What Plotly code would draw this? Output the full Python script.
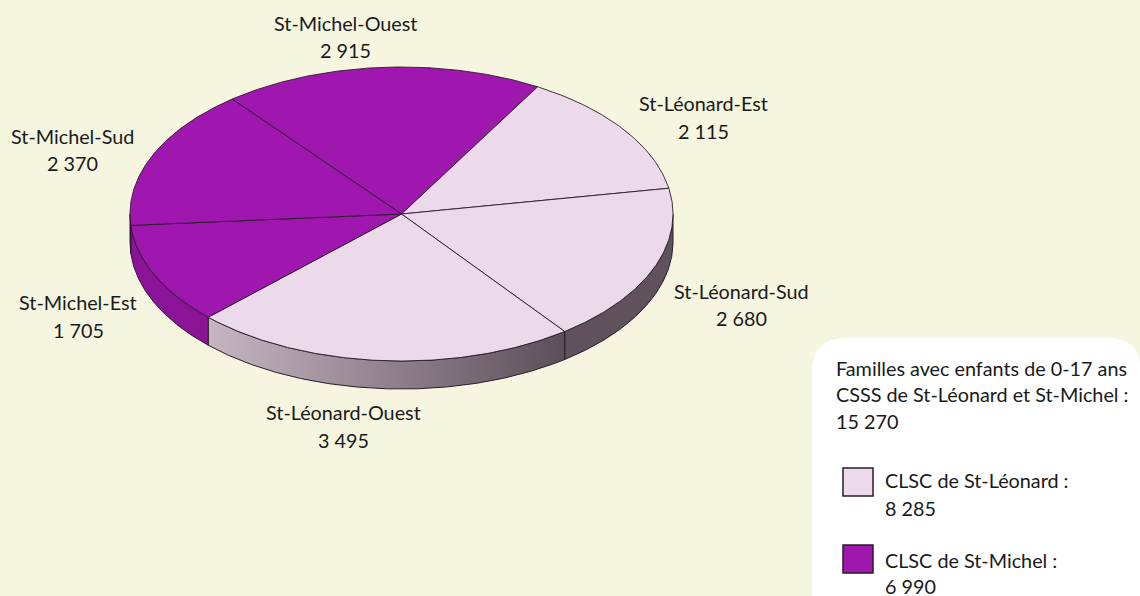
import math
import plotly.graph_objects as go

# Data
names = ["St-Michel-Ouest", "St-Léonard-Est", "St-Léonard-Sud", "St-Léonard-Ouest", "St-Michel-Est", "St-Michel-Sud"]
values = [2915, 2115, 2680, 3495, 1705, 2370]
groups = ["CLSC de St-Michel", "CLSC de St-Léonard", "CLSC de St-Léonard", "CLSC de St-Léonard", "CLSC de St-Michel", "CLSC de St-Michel"]
group_names = ["CLSC de St-Léonard", "CLSC de St-Michel"]
group_totals = [8285, 6990]
grand_total = 15270
info_title = ["Familles avec enfants de 0-17 ans", "CSSS de St-Léonard et St-Michel :"]

# Style and layout
W, H = 1140, 596
BG = "#F5F5E0"
LINE = "#2B1B2B"
FONT = "Lato"
FS = 19.8
TXT = "#1a1a1a"
CX, CY, RX, RY, DEPTH = 401.5, 214, 271.5, 147, 28
START = -38.6
top_col = {"CLSC de St-Léonard": "#ECD9E9", "CLSC de St-Michel": "#9F17AF"}
side_grad = {
    "St-Léonard-Sud": ("#5F525C", "#5F525C"),
    "St-Léonard-Ouest": ("#C6B6C2", "#5C4F59"),
    "St-Michel-Est": ("#8A1397", "#8A1397"),
    "St-Michel-Sud": ("#8A1397", "#8A1397"),
}
label_pos = {
    "St-Michel-Ouest": (345, 23, 50),
    "St-Léonard-Est": (703, 103, 131),
    "St-Léonard-Sud": (741, 291, 318),
    "St-Léonard-Ouest": (343, 412, 440),
    "St-Michel-Est": (78, 302, 330),
    "St-Michel-Sud": (72, 136, 163),
}


def fmt(v):
    return f"{v:,}".replace(",", " ")


def pt(deg, dy=0):
    a = math.radians(deg)
    return CX + RX * math.sin(a), CY - RY * math.cos(a) + dy


total = sum(values)
spans = []
acc = START
for v in values:
    sweep = v / total * 360
    spans.append((acc, acc + sweep))
    acc += sweep

fig = go.Figure()

# Side walls: the part of each slice's rim on the front half of the ellipse
for name, (a0, a1) in zip(names, spans):
    for shift in (0, 360):
        lo, hi = max(a0 + shift, 90), min(a1 + shift, 270)
        if lo >= hi:
            continue
        n = max(2, int(hi - lo) * 2)
        angs = [lo + (hi - lo) * i / n for i in range(n + 1)]
        upper = [pt(t) for t in angs]
        lower = [pt(t, DEPTH) for t in reversed(angs)]
        pts = upper + lower + upper[:1]
        c0, c1 = side_grad[name]
        fig.add_trace(go.Scatter(
            x=[p[0] for p in pts], y=[p[1] for p in pts],
            mode="lines", fill="toself",
            fillgradient=dict(type="horizontal", colorscale=[[0, c0], [1, c1]]),
            line=dict(color=LINE, width=1),
            hoverinfo="skip", showlegend=False,
        ))

# Top faces
for name, val, grp, (a0, a1) in zip(names, values, groups, spans):
    n = max(2, int(a1 - a0) * 2)
    rim = [pt(a0 + (a1 - a0) * i / n) for i in range(n + 1)]
    pts = [(CX, CY)] + rim + [(CX, CY)]
    fig.add_trace(go.Scatter(
        x=[p[0] for p in pts], y=[p[1] for p in pts],
        mode="lines", fill="toself", fillcolor=top_col[grp],
        line=dict(color=LINE, width=0.9),
        name=name, text=f"{name}: {fmt(val)}", hoverinfo="text", showlegend=False,
    ))


def text(x, y, s, anchor="center"):
    fig.add_annotation(x=x, y=y, xref="x", yref="y", text=s, showarrow=False,
                       xanchor=anchor, yanchor="middle", xshift=0,
                       borderpad=0, font=dict(family=FONT, size=FS, color=TXT))


for name, val in zip(names, values):
    x, y1, y2 = label_pos[name]
    text(x, y1, name)
    text(x, y2, fmt(val))

# Information box
shapes = [dict(
    type="path", xref="x", yref="y", layer="below",
    path="M 812 372 Q 812 338 846 338 L 1108 338 Q 1140 338 1140 368 L 1140 596 L 812 596 Z",
    fillcolor="#FFFFFF", line=dict(width=0),
)]
text(835, 368, info_title[0], "left")
text(835, 394, info_title[1], "left")
text(835, 421, fmt(grand_total), "left")

legend_rows = [(468, 480, 508), (545, 560, 586)]
for gname, gtotal, (sq, y1, y2) in zip(group_names, group_totals, legend_rows):
    shapes.append(dict(type="rect", xref="x", yref="y", x0=843, x1=873, y0=sq, y1=sq + 28,
                       fillcolor=top_col[gname], line=dict(color=LINE, width=1.5)))
    text(884, y1, f"{gname} :", "left")
    text(884, y2, fmt(gtotal), "left")

fig.update_layout(
    width=W, height=H, margin=dict(l=0, r=0, t=0, b=0),
    paper_bgcolor=BG, plot_bgcolor=BG, showlegend=False, shapes=shapes,
    xaxis=dict(range=[0, W], visible=False, fixedrange=True),
    yaxis=dict(range=[H, 0], visible=False, fixedrange=True),
)
fig.write_html(
    "out.html",
    config={"displayModeBar": False},
    post_script="document.body.style.margin='0';document.body.style.overflow='hidden';",
)
